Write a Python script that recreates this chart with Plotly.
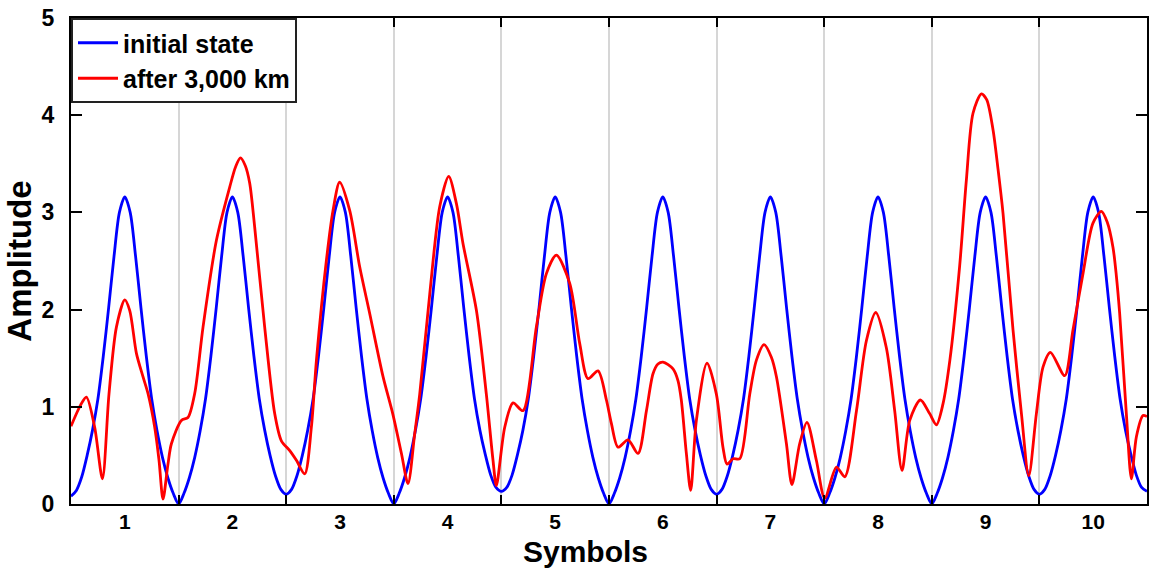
import plotly.graph_objects as go

# ---- data ----
symbols = [1, 2, 3, 4, 5, 6, 7, 8, 9, 10]
symbol_labels = ["1", "2", "3", "4", "5", "6", "7", "8", "9", "10"]
boundaries = [1.5, 2.5, 3.5, 4.5, 5.5, 6.5, 7.5, 8.5, 9.5]

# initial state: sampled every 0.05 symbol from 0.5 to 10.5
blue_x = [round(0.5 + 0.05 * k, 2) for k in range(201)]
blue_y = [
    0.08, 0.14, 0.28, 0.50, 0.76, 1.08, 1.52, 2.02, 2.55, 3.00, 3.16, 3.00, 2.55, 2.02, 1.52, 1.08, 0.75, 0.48, 0.27, 0.11,
    0.00, 0.11, 0.27, 0.48, 0.75, 1.08, 1.52, 2.02, 2.55, 3.00, 3.16, 3.00, 2.55, 2.02, 1.52, 1.08, 0.76, 0.50, 0.29, 0.15,
    0.10, 0.15, 0.29, 0.50, 0.76, 1.08, 1.52, 2.02, 2.55, 3.00, 3.16, 3.00, 2.55, 2.02, 1.52, 1.08, 0.75, 0.48, 0.27, 0.11,
    0.00, 0.11, 0.27, 0.48, 0.75, 1.08, 1.52, 2.02, 2.55, 3.00, 3.16, 3.00, 2.55, 2.02, 1.52, 1.08, 0.76, 0.51, 0.30, 0.17,
    0.13, 0.17, 0.30, 0.51, 0.76, 1.08, 1.52, 2.02, 2.55, 3.00, 3.16, 3.00, 2.55, 2.02, 1.52, 1.08, 0.75, 0.48, 0.27, 0.11,
    0.00, 0.11, 0.27, 0.48, 0.75, 1.08, 1.52, 2.02, 2.55, 3.00, 3.16, 3.00, 2.55, 2.02, 1.52, 1.08, 0.76, 0.50, 0.29, 0.15,
    0.10, 0.15, 0.29, 0.50, 0.76, 1.08, 1.52, 2.02, 2.55, 3.00, 3.16, 3.00, 2.55, 2.02, 1.52, 1.08, 0.75, 0.48, 0.27, 0.11,
    0.00, 0.11, 0.27, 0.48, 0.75, 1.08, 1.52, 2.02, 2.55, 3.00, 3.16, 3.00, 2.55, 2.02, 1.52, 1.08, 0.75, 0.48, 0.27, 0.11,
    0.00, 0.11, 0.27, 0.48, 0.75, 1.08, 1.52, 2.02, 2.55, 3.00, 3.16, 3.00, 2.55, 2.02, 1.52, 1.08, 0.76, 0.50, 0.29, 0.15,
    0.10, 0.15, 0.29, 0.50, 0.76, 1.08, 1.52, 2.02, 2.55, 3.00, 3.16, 3.00, 2.55, 2.02, 1.52, 1.08, 0.76, 0.51, 0.30, 0.17,
    0.13,
]

# after 3,000 km: points
red_x = [
    0.50, 0.59, 0.643, 0.72, 0.792, 0.853, 0.922, 1.00, 1.046, 1.108, 1.169, 1.216, 1.278, 1.318, 1.355,
    1.40, 1.433, 1.526, 1.587, 1.65, 1.727, 1.851, 1.975, 2.03, 2.075, 2.12, 2.161, 2.207, 2.30, 2.393, 2.455, 2.533,
    2.595, 2.672, 2.734, 2.781, 2.874, 2.935, 2.997, 3.09, 3.183, 3.276, 3.40, 3.49, 3.571, 3.632, 3.694,
    3.741, 3.834, 3.927, 4.010, 4.082, 4.143, 4.268, 4.36, 4.422, 4.453, 4.531, 4.608, 4.70, 4.825, 4.918,
    5.011, 5.135, 5.228, 5.305, 5.398, 5.476, 5.522, 5.584, 5.677, 5.77, 5.848, 5.909, 5.955, 6.002, 6.095,
    6.141, 6.172, 6.219, 6.259, 6.312, 6.411, 6.498, 6.559, 6.597, 6.653, 6.715, 6.808, 6.87, 6.941, 7.009,
    7.056, 7.149, 7.20, 7.272, 7.34, 7.427, 7.505, 7.614, 7.691, 7.80, 7.892, 7.979, 8.077, 8.155, 8.223,
    8.295, 8.394, 8.48, 8.543, 8.604, 8.668, 8.759, 8.821, 8.883, 8.961, 9.01, 9.069, 9.115, 9.162, 9.255, 9.333, 9.401,
    9.472, 9.534, 9.602, 9.735, 9.812, 9.905, 9.998, 10.076, 10.13, 10.184, 10.215, 10.246, 10.308, 10.355, 10.401, 10.463, 10.50,
]
red_y = [
    0.80, 1.02, 1.10, 0.79, 0.26, 1.13, 1.82, 2.10, 1.99, 1.55, 1.31, 1.135, 0.79, 0.45, 0.05,
    0.40, 0.62, 0.86, 0.89, 1.14, 1.82, 2.71, 3.26, 3.47, 3.56, 3.48, 3.30, 2.85, 1.82, 0.93, 0.65, 0.55,
    0.45, 0.31, 0.79, 1.48, 2.51, 3.02, 3.31, 3.02, 2.44, 1.96, 1.31, 0.93, 0.52, 0.21, 0.72,
    1.13, 2.16, 3.06, 3.37, 3.09, 2.68, 1.99, 1.13, 0.45, 0.19, 0.79, 1.04, 0.96, 1.82, 2.37,
    2.56, 2.27, 1.65, 1.29, 1.37, 1.07, 0.83, 0.585, 0.66, 0.52, 0.96, 1.34, 1.44, 1.46, 1.39,
    1.27, 1.07, 0.52, 0.14, 0.86, 1.45, 1.13, 0.585, 0.41, 0.465, 0.465, 1.13, 1.48, 1.64, 1.51,
    1.31, 0.62, 0.20, 0.62, 0.84, 0.45, 0.06, 0.38, 0.28, 0.96, 1.68, 1.97, 1.61, 0.96, 0.345,
    0.86, 1.07, 0.93, 0.815, 1.03, 1.48, 2.45, 3.33, 4.02, 4.22, 4.16, 3.85, 3.45, 2.99, 1.79, 0.93, 0.29,
    0.93, 1.41, 1.56, 1.32, 1.79, 2.37, 2.89, 3.01, 2.90, 2.64, 2.35, 1.96, 0.93, 0.26, 0.69, 0.91, 0.90,
]

FONT = "Arial, 'Liberation Sans', sans-serif"

fig = go.Figure()
fig.add_trace(go.Scatter(x=blue_x, y=blue_y, mode="lines", name="initial state",
                         line=dict(color="#0000FF", width=2.8, shape="spline", smoothing=0.8)))
fig.add_trace(go.Scatter(x=red_x, y=red_y, mode="lines", name="after 3,000 km",
                         line=dict(color="#FF0000", width=2.8, shape="spline", smoothing=0.8)))

fig.update_layout(
    width=1149, height=568,
    margin=dict(l=71, r=2, t=18, b=64, autoexpand=False),
    plot_bgcolor="white", paper_bgcolor="white",
    font=dict(family=FONT, color="black"),
    showlegend=True,
    legend=dict(x=0, y=1, xanchor="left", yanchor="top", bgcolor="white",
                bordercolor="#222222", borderwidth=2,
                font=dict(family=FONT, size=25, weight="bold", color="black"),
                tracegroupgap=0, itemwidth=40),
    annotations=[dict(text="Symbols", xref="paper", yref="paper", x=0.478, y=-0.097,
                      xanchor="center", yanchor="middle", showarrow=False,
                      font=dict(family=FONT, size=30, weight="bold", color="black"))],
)

fig.update_xaxes(
    range=[0.5, 10.5], tickmode="array", tickvals=symbols, ticktext=symbol_labels,
    ticks="", showgrid=False, zeroline=False, automargin=False,
    showline=True, linecolor="black", linewidth=2, mirror="ticks",
    tickfont=dict(family=FONT, size=21, weight="bold", color="black"),
    ticklabelstandoff=-2,
    minor=dict(tickmode="array", tickvals=boundaries, ticks="inside", ticklen=9, tickwidth=2,
               tickcolor="black", showgrid=True, gridcolor="#d6d6d6", gridwidth=2),
)
fig.update_yaxes(
    range=[0, 5], tickmode="array", tickvals=[0, 1, 2, 3, 4, 5], ticktext=["0", "1", "2", "3", "4", "5"],
    ticks="inside", ticklen=11, tickwidth=2, tickcolor="black",
    showgrid=False, zeroline=False, automargin=False,
    showline=True, linecolor="black", linewidth=2, mirror="ticks",
    tickfont=dict(family=FONT, size=23, weight="bold", color="black"),
    ticklabelstandoff=10,
    title=dict(text="Amplitude", font=dict(family=FONT, size=33, weight="bold", color="black"), standoff=0),
)

fig.write_html(
    "out.html",
    config={"displayModeBar": False},
    post_script="document.body.style.margin='0';document.body.style.overflow='hidden';",
)
